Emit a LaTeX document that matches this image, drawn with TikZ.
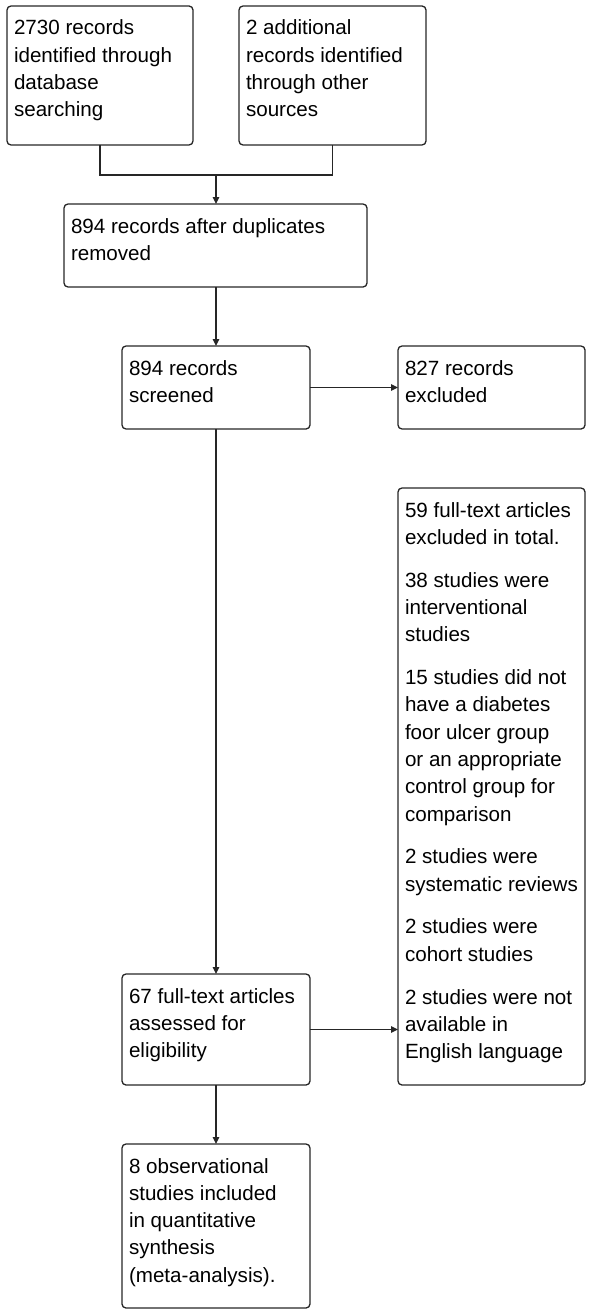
\documentclass[tikz,border=0pt]{standalone}
\usepackage{fontspec}
\setmainfont{Liberation Sans}
\usetikzlibrary{arrows.meta}
\newcommand{\bxt}[3]{\parbox[c][#2][t]{#1}{\raggedright\hfuzz=20pt\fontsize{20.6}{27.3}\selectfont\rule{0pt}{29pt}#3}}
\tikzset{
  box/.style={draw=black!85, line width=1.3pt, rounded corners=4pt, inner xsep=7pt, inner ysep=0pt, anchor=north west, outer sep=0pt},
  conn/.style={draw=black!85, line width=1.3pt},
  arr/.style={conn, -{Triangle[length=7pt,width=6.5pt]}}
}
\begin{document}
\begin{tikzpicture}[x=1pt,y=-1pt]
\useasboundingbox (0,0) rectangle (592,1316);
\node[box] (a) at (7,6) {\bxt{172pt}{139pt}{2730 records\\identified through\\database\\searching}};
\node[box] (b) at (239,6) {\bxt{173pt}{139pt}{2 additional\\records identified\\through other\\sources}};
\node[box] (c) at (64,204) {\bxt{289pt}{83pt}{894 records after duplicates\\removed}};
\node[box] (d) at (122,346) {\bxt{174pt}{83pt}{894 records\\screened}};
\node[box] (e) at (398,346) {\bxt{173pt}{83pt}{827 records\\excluded}};
\node[box] (g) at (398,488) {\bxt{173pt}{597pt}{59 full-text articles\\excluded in total.\\[15.5pt]38 studies were\\interventional\\studies\\[15.5pt]15 studies did not\\have a diabetes\\foor ulcer group\\or an appropriate\\control group for\\comparison\\[15.5pt]2 studies were\\\mbox{systematic reviews}\\[15.5pt]2 studies were\\cohort studies\\[15.5pt]2 studies were not\\available in\\English language}};
\node[box] (f) at (122,974) {\bxt{174pt}{111pt}{67 full-text articles\\assessed for\\eligibility}};
\node[box] (h) at (122,1144) {\bxt{174pt}{164pt}{8 observational\\studies included\\in quantitative\\synthesis\\(meta-analysis).}};
\coordinate (j) at (216,175);
\draw[conn] (a.south) |- (j) -| (b.south);
\draw[arr] (j) -- (j |- c.north);
\draw[arr] (d.north |- c.south) -- (d.north);
\draw[arr] (d.east) -- (d.east -| e.west);
\draw[arr] (d.south) -- (f.north);
\draw[arr] (f.east) -- (f.east -| g.west);
\draw[arr] (f.south) -- (h.north);
\end{tikzpicture}
\end{document}
